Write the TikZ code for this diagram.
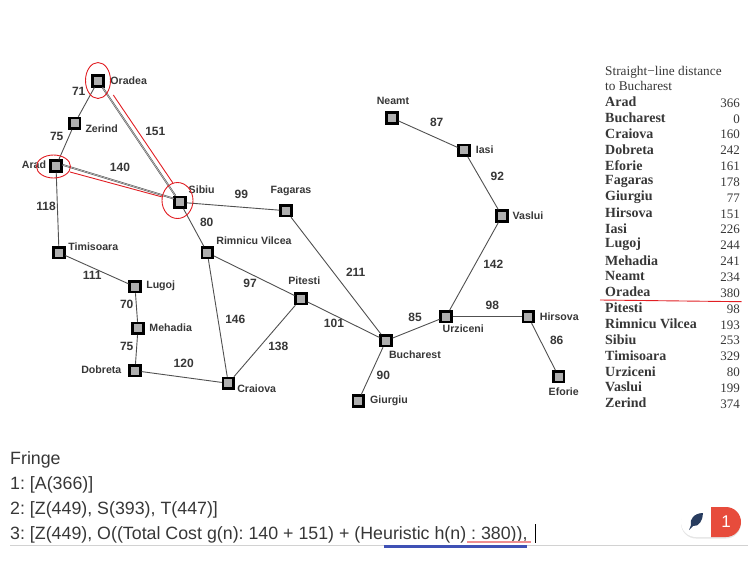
\documentclass[tikz,border=0pt]{standalone}
\usepackage{fontspec}
\setmainfont{Liberation Sans}
\newfontfamily\tablefont{Liberation Serif}
\usetikzlibrary{shapes.geometric, positioning}
\definecolor{edgeGray}{RGB}{80,80,80}
\definecolor{cityFill}{RGB}{175,175,175}
\definecolor{routeRed}{RGB}{225,30,35}
\definecolor{badgeRed}{RGB}{231,76,60}
\definecolor{quillBlue}{RGB}{40,60,95}
\definecolor{markBlue}{RGB}{63,81,181}
\definecolor{textGray}{RGB}{55,55,55}

\begin{document}
\frenchspacing
\begin{tikzpicture}[
  x=1pt, y=-1pt,
  city/.style={
    rectangle, draw=black, fill=cityFill, line width=2.6pt,
    minimum size=10.5pt, inner sep=0pt
  },
  road/.style={edgeGray, line width=0.9pt},
  doubleroad/.style={edgeGray, line width=0.5pt, double=gray!50, double distance=0.7pt},
  cityname/.style={font=\bfseries\fontsize{10.6}{12}\selectfont, text=textGray, inner sep=0pt},
  dist/.style={font=\bfseries\fontsize{12}{14}\selectfont, text=textGray, inner sep=0pt},
  ring/.style={ellipse, draw=routeRed, line width=0.9pt, inner sep=0pt},
  route/.style={routeRed, line width=0.9pt},
  sldname/.style={font=\tablefont\bfseries\fontsize{14}{15}\selectfont, text=textGray, anchor=west, inner sep=0pt},
  sldval/.style={font=\tablefont\fontsize{13}{15}\selectfont, text=textGray, anchor=east, inner sep=0pt},
  sldhead/.style={font=\tablefont\fontsize{13.3}{14}\selectfont, text=textGray, anchor=west, inner sep=0pt},
  fringe/.style={font=\fontsize{17.8}{20}\selectfont, text=textGray, anchor=base west, inner sep=0pt}
]
  \useasboundingbox (0,0) rectangle (753,581);

  \foreach \id/\x/\y in {
    Oradea/98/81, Zerind/74.7/123.3, Arad/56/166, Sibiu/180/202.3,
    Fagaras/286/210.7, Rimnicu/207.3/252.7, Timisoara/59/252.7,
    Lugoj/135/286.7, Mehadia/138/328.3, Dobreta/135/370.7,
    Craiova/228.3/383.3, Pitesti/301/298.7, Bucharest/386/340.7,
    Urziceni/446/316.7, Hirsova/528.3/316.7, Eforie/558.7/376.7,
    Vaslui/502/216, Iasi/464/150.3, Neamt/392/118, Giurgiu/358.3/401}
    \node[city] (\id) at (\x,\y) {};

  \foreach \a/\b in {
    Oradea/Zerind, Zerind/Arad, Arad/Timisoara,
    Sibiu/Fagaras, Sibiu/Rimnicu, Timisoara/Lugoj, Lugoj/Mehadia,
    Mehadia/Dobreta, Dobreta/Craiova, Rimnicu/Craiova, Rimnicu/Pitesti,
    Craiova/Pitesti, Pitesti/Bucharest, Fagaras/Bucharest,
    Bucharest/Giurgiu, Bucharest/Urziceni, Urziceni/Hirsova,
    Hirsova/Eforie, Urziceni/Vaslui, Vaslui/Iasi, Iasi/Neamt}
    \draw[road] (\a) -- (\b);
  \draw[doubleroad] (Oradea.-55) -- (Sibiu.125);
  \draw[doubleroad] (Arad.10) -- (Sibiu.150);

  % City names
  \foreach \txt/\x/\y in {
    Oradea/128.7/80.7, Zerind/101.7/128.3, Arad/34/165, Sibiu/201.7/189.5,
    Fagaras/291/191, Rimnicu Vilcea/254/240.3, Timisoara/93.3/246.7,
    Lugoj/160.7/286, Mehadia/170.7/327.7, Dobreta/101.3/369.7,
    Craiova/256.7/388.3, Pitesti/304.3/280.3, Neamt/393/101.3,
    Iasi/484.7/150, Vaslui/528/215.7, Hirsova/559.3/316.3,
    Urziceni/463.3/328.7, Bucharest/415/354.7, Eforie/563.7/392,
    Giurgiu/389/400.7}
    \node[cityname] (name \txt) at (\x,\y) {\txt};

  % Distances
  \foreach \txt/\x/\y/\tag in {
    71/78.7/91.3/a, 75/56.7/136.7/b, 151/155.3/131/c, 140/120/167.3/d,
    118/46/206.7/e, 99/241.3/194/f, 80/206.7/222/g, 111/92.3/275/h,
    70/126.7/304/i, 75/126.7/346/j, 120/183.7/363.7/k, 146/235.3/319/l,
    97/250/283.7/m, 138/278.3/346.7/n, 211/355.7/272.3/o, 101/334/323/p,
    85/415/317.3/q, 98/492.3/305/r, 86/556.7/340.7/s, 90/383.3/375/t,
    142/493.3/264.3/u, 92/497.3/176.3/v, 87/436.7/122/w}
    \node[dist] (km\tag) at (\x,\y) {\txt};

  % Search marks
  \node[ring, minimum width=25pt, minimum height=36pt] (ringOradea) at (98,80.5) {};
  \node[ring, minimum width=34pt, minimum height=23pt] (ringArad) at (53.5,166.5) {};
  \node[ring, minimum width=31pt, minimum height=36pt] (ringSibiu) at (177.5,200.5) {};
  \coordinate (routeTop) at (113.3,95);
  \coordinate (routeOff) at (172.7,182.7);
  \coordinate (routeLeft) at (70,172);
  \coordinate (routeIn) at (162.3,197);
  \draw[route] (routeTop) -- (routeOff);
  \draw[route] (routeLeft) -- (routeIn);

  % Straight-line table
  \node[sldhead] (sldHead) at (605,72) {Straight−line distance};
  \node[sldhead] (sldSub) at (605,86) {to Bucharest};
  \foreach \txt/\val [count=\i from 0] in {
    Arad/366, Bucharest/0, Craiova/160, Dobreta/242, Eforie/161, Fagaras/178,
    Giurgiu/77, Hirsova/151, Iasi/226, Lugoj/244, Mehadia/241, Neamt/234,
    Oradea/380, Pitesti/98, Rimnicu Vilcea/193, Sibiu/253, Timisoara/329,
    Urziceni/80, Vaslui/199, Zerind/374}
  {
    \node[sldname] (row\i) at (605,{102+15.84*\i}) {\txt};
    \node[sldval] (val\i) at (740,{103+15.84*\i}) {\val};
  }
  \coordinate (cutL) at (600,300);
  \coordinate (cutR) at (741.7,301.7);
  \draw[route] (cutL) -- (cutR);

  % Fringe text
  \node[fringe] (fringe0) at (10,464) {Fringe};
  \node[fringe] (fringe1) at (10,489) {1: [A(366)]};
  \node[fringe] (fringe2) at (10,514) {2: [Z(449), S(393), T(447)]};
  \node[fringe] (fringe3) at (10,539) {3: [Z(449), O((Total Cost g(n): 140 + 151) + (Heuristic h(n) : 380)),};
  \draw[black, line width=0.8pt] (535,524) -- (535,543);
  \draw[gray!35, line width=0.8pt] (10,545.5) -- (748,545.5);
  \draw[markBlue, line width=2.4pt] (384,546.5) -- (527,546.5);
  \draw[routeRed!50, line width=1.6pt] (467,542) -- (531,542);

  % Badge
  \fill[black!10] (696,508.5) arc[start angle=-90, end angle=-270, radius=15]
    -- (726,538.5) arc[start angle=90, end angle=-90, radius=15] -- cycle;
  \fill[white] (696,507) arc[start angle=-90, end angle=-270, radius=15] -- (711,537) -- (711,507) -- cycle;
  \fill[badgeRed] (711,507) -- (726,507) arc[start angle=-90, end angle=90, radius=15] -- (711,537) -- cycle;
  \node[font=\fontsize{17}{20}\selectfont, text=white, inner sep=0pt] (badgeNum) at (726,522) {1};
  \fill[quillBlue] (703,513) .. controls (694,513) and (689,520) .. (691,525)
    -- (689,530) -- (693,526) .. controls (699,527) and (703,520) .. (703,513);
\end{tikzpicture}
\end{document}
